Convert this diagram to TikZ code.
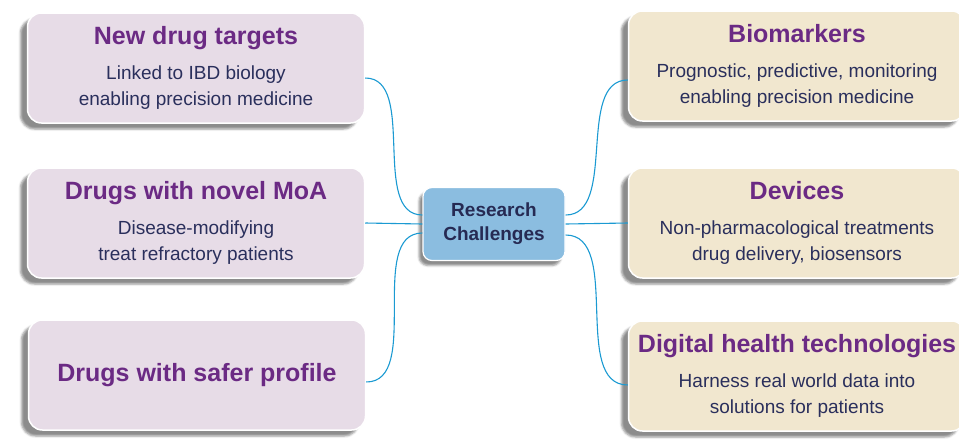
\documentclass[tikz,border=0pt]{standalone}
\usepackage{fontspec}
\setmainfont{Liberation Sans}
\usetikzlibrary{shadows.blur}
\definecolor{headpurple}{HTML}{6B2A84}
\definecolor{bodynavy}{HTML}{2A2F5C}
\definecolor{linkblue}{HTML}{1B9AD2}
\definecolor{lilac}{HTML}{E7DCE7}
\definecolor{cream}{HTML}{F1E7CF}
\definecolor{hubblue}{HTML}{8BBDE0}
\newcommand{\heading}[1]{{\fontsize{25}{26}\selectfont\bfseries\color{headpurple}#1}}

\begin{document}
\begin{tikzpicture}[x=1pt,y=-1pt,
  topic/.style={rounded corners=14pt, minimum width=337pt, minimum height=110pt,
    align=center, text=bodynavy, font=\fontsize{19}{26}\selectfont,
    draw=white, line width=1.5pt,
    blur shadow={shadow xshift=-7pt, shadow yshift=-6pt, shadow opacity=45}},
  drugbox/.style={topic, fill=lilac},
  techbox/.style={topic, fill=cream},
  hubbox/.style={rounded corners=9pt, minimum width=142pt, minimum height=73pt,
    align=center, fill=hubblue, draw=white, line width=1.2pt, text=bodynavy!90!black,
    font=\fontsize{19}{24}\selectfont\bfseries,
    blur shadow={shadow xshift=-4pt, shadow yshift=-5pt, shadow opacity=45}},
  link/.style={linkblue, line width=1.1pt}]
\useasboundingbox (0,0) rectangle (959,440);

\node[drugbox] (targets) at (196,68) {\heading{New drug targets}\\[9pt]Linked to IBD biology\\enabling precision medicine};
\node[drugbox] (moa) at (196,223) {\heading{Drugs with novel MoA}\\[9pt]Disease-modifying\\treat refractory patients};
\node[drugbox] (safer) at (197,375) {\heading{Drugs with safer profile}};

\node[techbox] (markers) at (797,66) {\heading{Biomarkers}\\[9pt]Prognostic, predictive, monitoring\\enabling precision medicine};
\node[techbox] (devices) at (797,223) {\heading{Devices}\\[9pt]Non-pharmacological treatments\\drug delivery, biosensors};
\node[techbox] (digital) at (797,376) {\heading{Digital health technologies}\\[9pt]Harness real world data into\\solutions for patients};

\node[hubbox] (hub) at (494,224) {Research\\Challenges};

\draw[link] ([yshift=-10pt]targets.east) to[out=0,in=180,looseness=0.9] ([yshift=9pt]hub.west);
\draw[link] (moa.east) -- (hub.west);
\draw[link] ([yshift=-7pt]safer.east) to[out=0,in=180,looseness=0.9] ([yshift=-9pt]hub.west);
\draw[link] ([yshift=9pt]hub.east) to[out=0,in=180,looseness=0.9] ([yshift=-14pt]markers.west);
\draw[link] (hub.east) -- (devices.west);
\draw[link] ([yshift=-11pt]hub.east) to[out=0,in=180,looseness=0.9] ([yshift=-9pt]digital.west);
\end{tikzpicture}
\end{document}
